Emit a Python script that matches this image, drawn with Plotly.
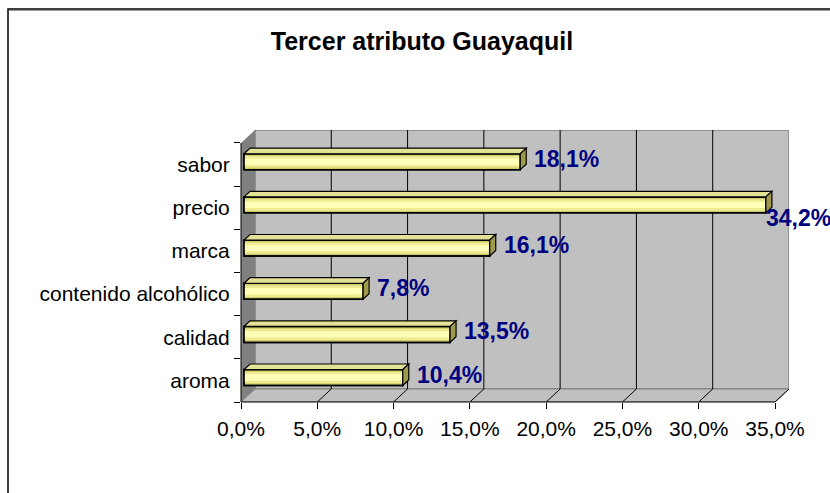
import plotly.graph_objects as go

# ---------------- data ----------------
categories = ["aroma", "calidad", "contenido alcohólico", "marca", "precio", "sabor"]
values = [10.4, 13.5, 7.8, 16.1, 34.2, 18.1]
value_labels = ["10,4%", "13,5%", "7,8%", "16,1%", "34,2%", "18,1%"]
x_tick_values = [0, 5, 10, 15, 20, 25, 30, 35]
x_tick_labels = ["0,0%", "5,0%", "10,0%", "15,0%", "20,0%", "25,0%", "30,0%", "35,0%"]
title_text = "Tercer atributo Guayaquil"

# ---------------- geometry / style ----------------
W, H = 830, 493
ML, MR, MT, MB = 241, 41, 130, 91
PW, PH = W - ML - MR, H - MT - MB
XMAX = 35
DX = 0.917   # depth offset in % units
DY = 0.301   # depth offset in category units
n = len(categories)
XR = [0, XMAX + DX]
YR = [-0.5, n - 0.5 + DY]

F1, F2 = 0.22, 0.65        # bar front / back depth fractions
BASE = F1 * DX
SHIFT_Y = F1 * DY
BH = 0.37
TDX, TDY = (F2 - F1) * DX, (F2 - F1) * DY

FONT = "Arial, Liberation Sans, sans-serif"
WALL = "#C0C0C0"
DARK = "#808080"


def xp(v):
    return (v - XR[0]) / (XR[1] - XR[0])


def yp(v):
    return (v - YR[0]) / (YR[1] - YR[0])


def pxx(px):
    return (px - ML) / PW


def pxy(py):
    return (H - MB - py) / PH


fig = go.Figure()

ys = [i + SHIFT_Y for i in range(n)]

# front faces with banded shading
bands = [(BH, "#CFCB6A", dict(color="black", width=1.5)),
         (BH * 0.72, "#EDEB92", dict(width=0)),
         (BH * 0.40, "#FFFFB8", dict(width=0))]
for w, col, ln in bands:
    fig.add_trace(go.Bar(
        orientation="h", y=ys, x=values, base=[BASE] * n, width=w,
        marker=dict(color=col, line=ln), hoverinfo="skip", showlegend=False))
fig.add_trace(go.Bar(
    orientation="h", y=ys, x=values, base=[BASE] * n, width=BH,
    marker=dict(color="rgba(0,0,0,0)", line=dict(color="black", width=1.5)),
    hoverinfo="skip", showlegend=False))

shapes = []
# walls
shapes.append(dict(type="rect", xref="x", yref="y", x0=DX, x1=XMAX + DX,
                   y0=-0.5 + DY, y1=YR[1], fillcolor=WALL,
                   line=dict(color=DARK, width=1.5), layer="below"))
shapes.append(dict(type="path", xref="x", yref="y",
                   path=f"M 0,-0.5 L 0,{n-0.5} L {DX},{n-0.5+DY} L {DX},{-0.5+DY} Z",
                   fillcolor=DARK, line=dict(width=0), layer="below"))
shapes.append(dict(type="path", xref="x", yref="y",
                   path=f"M 0,-0.5 L {XMAX},-0.5 L {XMAX+DX},{-0.5+DY} L {DX},{-0.5+DY} Z",
                   fillcolor=WALL, line=dict(color=DARK, width=1), layer="below"))
for t in x_tick_values[1:-1]:
    shapes.append(dict(type="line", xref="x", yref="y", x0=t + DX, x1=t + DX,
                       y0=-0.5 + DY, y1=YR[1], line=dict(color="black", width=1),
                       layer="below"))
for t in x_tick_values[1:]:
    shapes.append(dict(type="line", xref="x", yref="y", x0=t, x1=t + DX,
                       y0=-0.5, y1=-0.5 + DY, line=dict(color="black", width=1),
                       layer="below"))

# bar top and side faces
for y, v in zip(ys, values):
    x0, x1 = BASE, BASE + v
    top, bot = y + BH / 2, y - BH / 2
    shapes.append(dict(type="path", xref="x", yref="y",
                       path=f"M {x0},{top} L {x1},{top} L {x1+TDX},{top+TDY} L {x0+TDX},{top+TDY} Z",
                       fillcolor="#E4E296", line=dict(color="black", width=1.2), layer="above"))
    shapes.append(dict(type="path", xref="x", yref="y",
                       path=f"M {x1},{bot} L {x1},{top} L {x1+TDX},{top+TDY} L {x1+TDX},{bot+TDY} Z",
                       fillcolor="#9E9A4C", line=dict(color="black", width=1.2), layer="above"))

# front axis lines (paper refs so they are not clipped)
shapes.append(dict(type="line", xref="paper", yref="paper", x0=xp(0), x1=xp(XMAX),
                   y0=yp(-0.5), y1=yp(-0.5), line=dict(color="black", width=1), layer="above"))
shapes.append(dict(type="line", xref="paper", yref="paper", x0=xp(0), x1=xp(0),
                   y0=yp(-0.5), y1=yp(n - 0.5), line=dict(color="black", width=1), layer="above"))

# chart area border
shapes.append(dict(type="rect", xref="paper", yref="paper", x0=pxx(8), x1=pxx(845),
                   y0=pxy(510), y1=pxy(9), line=dict(color="black", width=1.5),
                   fillcolor="rgba(0,0,0,0)", layer="above"))
shapes.append(dict(type="line", xref="paper", yref="paper", x0=pxx(9), x1=pxx(845),
                   y0=pxy(10.5), y1=pxy(10.5), line=dict(color="#9a9a9a", width=1),
                   layer="above"))

# value labels
annotations = []
for y, v, lab in zip(ys, values, value_labels):
    est_w = len(lab) * 13
    end_px = ML + (BASE + v + TDX) / (XR[1] - XR[0]) * PW
    if end_px + 6 + est_w > W:
        annotations.append(dict(x=BASE + v, y=y - 0.30, xref="x", yref="y", text=lab,
                                showarrow=False, xanchor="left", yanchor="middle",
                                xshift=-2,
                                font=dict(family=FONT, size=23, color="#000080",
                                          weight="bold")))
    else:
        annotations.append(dict(x=BASE + v + TDX, y=y + 0.07, xref="x", yref="y", text=lab,
                                showarrow=False, xanchor="left", yanchor="middle",
                                xshift=6,
                                font=dict(family=FONT, size=23, color="#000080",
                                          weight="bold")))

fig.update_layout(
    width=W, height=H,
    margin=dict(l=ML, r=MR, t=MT, b=MB, pad=0),
    paper_bgcolor="white", plot_bgcolor="white",
    barmode="overlay",
    showlegend=False,
    title=dict(text=f"<b>{title_text}</b>", x=422 / W, xanchor="center",
               y=1 - 41 / H, yanchor="middle",
               font=dict(family=FONT, size=25, color="black")),
    xaxis=dict(range=XR, tickvals=x_tick_values, ticktext=x_tick_labels,
               ticks="outside", ticklen=6, tickcolor="black", tickwidth=1,
               showgrid=False, zeroline=False, showline=False,
               ticklabelstandoff=2,
               tickfont=dict(family=FONT, size=21, color="black"), fixedrange=True),
    yaxis=dict(range=YR, tickvals=list(range(n)), ticktext=categories,
               ticks="outside", ticklen=6, tickcolor="rgba(0,0,0,0)",
               minor=dict(tickvals=[i - 0.5 for i in range(n + 1)], ticks="outside",
                          ticklen=6, tickcolor="black", showgrid=False),
               showgrid=False, zeroline=False, showline=False,
               tickfont=dict(family=FONT, size=21, color="black"), fixedrange=True),
    shapes=shapes,
    annotations=annotations,
)

fig.write_html("out.html", config={"displayModeBar": False},
               post_script="document.body.style.margin='0';")
